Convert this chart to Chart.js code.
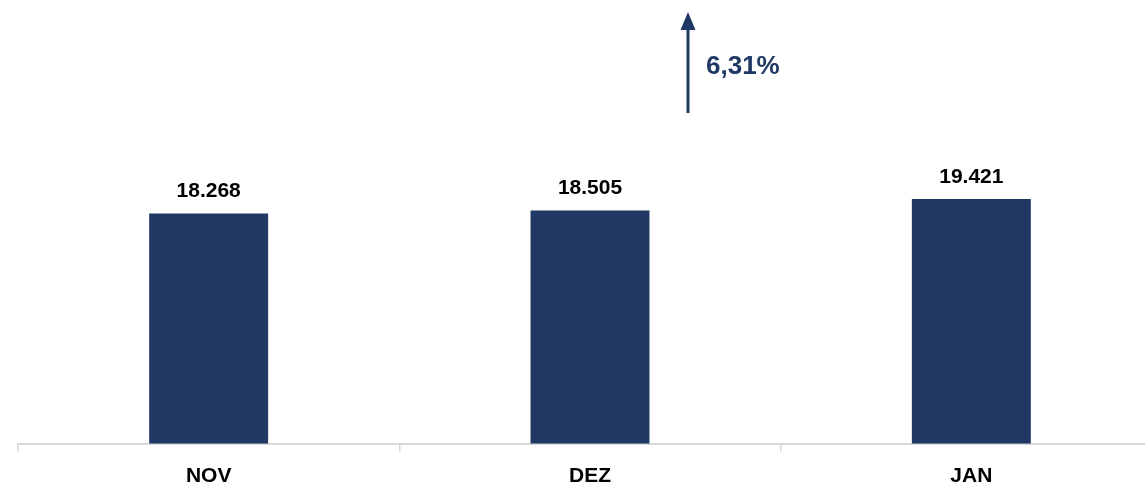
<!DOCTYPE html>
<html>
<head>
<meta charset="utf-8">
<script src="https://cdn.jsdelivr.net/npm/chart.js@4.4.1/dist/chart.umd.min.js"></script>
<style>
  html, body { margin: 0; padding: 0; background: #fff; overflow: hidden; }
  #wrap { position: relative; width: 1165px; height: 503px; }
</style>
</head>
<body>
<div id="wrap"><canvas id="chart"></canvas></div>
<script>
  /* dados do gráfico */
  var MONTHS = ['NOV', 'DEZ', 'JAN'];
  var VALUES = [18268, 18505, 19421];
  var GROWTH_LABEL = '6,31%';

  var BAR_COLOR = '#203864';
  var ARROW_COLOR = '#1f3864';
  var FONT = '"Liberation Sans", Arial, sans-serif';

  function fmt(v) {
    // formato pt-BR: separador de milhar com ponto
    return String(v).replace(/\B(?=(\d{3})+(?!\d))/g, '.');
  }

  // rótulos de valor acima das barras
  var valueLabels = {
    id: 'valueLabels',
    afterDatasetsDraw: function (chart) {
      var ctx = chart.ctx;
      var meta = chart.getDatasetMeta(0);
      ctx.save();
      ctx.font = 'bold 21px ' + FONT;
      ctx.fillStyle = '#000';
      ctx.textAlign = 'center';
      ctx.textBaseline = 'alphabetic';
      meta.data.forEach(function (bar, i) {
        ctx.fillText(fmt(VALUES[i]), bar.x, bar.y - 16);
      });
      ctx.restore();
    }
  };

  // seta de crescimento
  var growthArrow = {
    id: 'growthArrow',
    afterDraw: function (chart) {
      var ctx = chart.ctx;
      var xs = chart.scales.x;
      var x = xs.getPixelForValue(1) + 98;
      var yBottom = chart.chartArea.top - 3;
      var yTip = 12;
      ctx.save();
      ctx.strokeStyle = ARROW_COLOR;
      ctx.fillStyle = ARROW_COLOR;
      ctx.lineWidth = 3;
      ctx.beginPath();
      ctx.moveTo(x, yBottom);
      ctx.lineTo(x, yTip + 14);
      ctx.stroke();
      ctx.beginPath();
      ctx.moveTo(x, yTip);
      ctx.lineTo(x - 7.5, yTip + 18);
      ctx.lineTo(x + 7.5, yTip + 18);
      ctx.closePath();
      ctx.fill();
      ctx.font = 'bold 26px ' + FONT;
      ctx.textAlign = 'left';
      ctx.textBaseline = 'middle';
      ctx.fillText(GROWTH_LABEL, x + 18, 67);
      ctx.restore();
    }
  };

  new Chart(document.getElementById('chart'), {
    type: 'bar',
    data: {
      labels: MONTHS,
      datasets: [{
        data: VALUES,
        backgroundColor: BAR_COLOR,
        borderWidth: 0,
        barPercentage: 1,
        categoryPercentage: 0.312
      }]
    },
    options: {
      responsive: true,
      maintainAspectRatio: false,
      animation: false,
      layout: { padding: { top: 116, left: 18, right: 3, bottom: 2 } },
      plugins: {
        legend: { display: false },
        tooltip: { enabled: false }
      },
      scales: {
        x: {
          grid: {
            display: true,
            drawOnChartArea: false,
            drawTicks: true,
            tickLength: 8,
            color: '#d9d9d9',
            lineWidth: 1.5
          },
          border: { display: true, color: '#d9d9d9', width: 2 },
          ticks: {
            color: '#000',
            padding: 12,
            font: { family: FONT, size: 21, weight: 'bold' }
          }
        },
        y: {
          display: false,
          min: 0,
          max: 26000
        }
      }
    },
    plugins: [valueLabels, growthArrow]
  });
</script>
</body>
</html>
